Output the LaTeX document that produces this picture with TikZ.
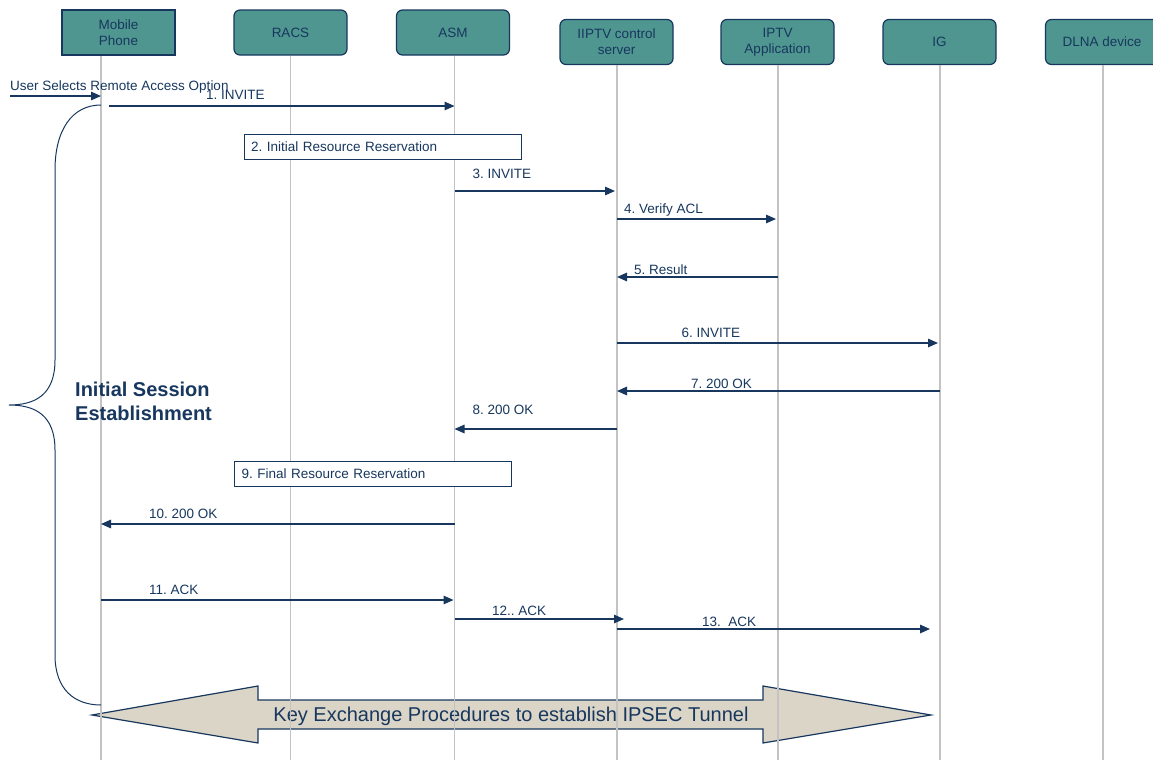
\documentclass[tikz,border=0pt]{standalone}
\usepackage{fontspec}
\setmainfont{Liberation Sans}
\usetikzlibrary{arrows.meta,positioning,calc}
\definecolor{navy}{RGB}{23,55,94}
\definecolor{tealbox}{RGB}{80,150,144}
\definecolor{lifegray}{RGB}{195,195,195}
\definecolor{tunnelfill}{RGB}{219,213,199}
\tikzset{
    actor/.style={draw=navy, line width=1.2pt, rounded corners=6pt,
                  fill=tealbox, minimum width=113pt, minimum height=45pt,
                  align=center, text=navy,
                  font=\fontsize{13.5}{16}\selectfont},
    resbox/.style={draw=navy, line width=1pt, fill=white, anchor=north west,
                   minimum height=25pt, inner xsep=7pt, text width=263pt,
                   align=left, text=navy,
                   font=\fontsize{13.5}{16}\selectfont},
    lbl/.style={anchor=base west, inner sep=0pt, text=navy,
                font=\fontsize{13.5}{16}\selectfont},
}

\begin{document}
\frenchspacing
\begin{tikzpicture}[
    x=1pt, y=-1pt,
    msg/.style={draw=navy, line width=1.5pt,
                -{Triangle[length=10pt,width=8.5pt]}},
    life/.style={draw=lifegray, line width=1.3pt}
]
    \useasboundingbox (0,0) rectangle (1153,766);
    % participants
    \node[actor, rounded corners=0pt] (mob) at (118.5,32.5) {Mobile\\Phone};
    \node[actor] (racs) at (290.5,32.5) {RACS};
    \node[actor] (asm) at (453,32.5) {ASM};
    \node[actor] (ics) at (616.5,42) {IIPTV control\\server};
    \node[actor] (app) at (777.5,42) {IPTV\\Application};
    \node[actor] (ig) at (939.5,42) {IG};
    \node[actor] (dlna) at (1102,42) {DLNA device};

    % key exchange arrow
    \draw[draw=navy, line width=1.2pt, fill=tunnelfill]
        (92,715) -- (258,686) -- (258,700) -- (763,700) -- (763,686)
        -- (931,715) -- (763,743) -- (763,729) -- (258,729) -- (258,743)
        -- cycle;
    \node[text=navy, font=\fontsize{20}{24}\selectfont] (ipsec) at (511,716)
        {Key Exchange Procedures to establish IPSEC Tunnel};

    % lifelines
    \foreach \n/\x in {mob/101, racs/290.5, asm/454.5, ics/617,
                       app/778, ig/940, dlna/1103}
        \coordinate (L\n) at (\x,760);
    \foreach \n in {mob, racs, asm, ics, app, ig, dlna}
        \draw[life] (\n.south -| L\n) -- (L\n);

    % brace
    \draw[navy, line width=1pt]
        (101,105) .. controls (72,105) and (55,130) .. (55,170)
        -- (55,360) .. controls (55,395) and (35,405) .. (9,405)
        .. controls (35,405) and (55,415) .. (55,450)
        -- (55,655) .. controls (55,690) and (75,705) .. (101,705);
    \node[anchor=north west, inner sep=0pt, align=left, text=navy,
          font=\bfseries\fontsize{20}{24}\selectfont] (ise) at (75,382)
        {Initial Session\\Establishment};

    % messages
    \coordinate (user) at (10,96);
    \node[lbl] (m0) at (10,90) {User Selects Remote Access Option};
    \draw[msg] (user) -- (Lmob |- user);

    \node[lbl] (m1) at (206,99) {1. INVITE};
    \draw[msg, shorten <=8pt] (Lmob |- 0,106) -- (Lasm |- 0,106);

    \node[resbox] (res2) at (243.5,134) {2. Initial Resource Reservation};

    \node[lbl] (m3) at (472.5,178) {3. INVITE};
    \draw[msg, shorten >=2pt] (Lasm |- 0,191) -- (Lics |- 0,191);

    \node[lbl] (m4) at (624,213) {4. Verify ACL};
    \draw[msg, shorten >=2pt] (Lics |- 0,219) -- (Lapp |- 0,219);

    \node[lbl] (m5) at (634,274) {5. Result};
    \draw[msg] (Lapp |- 0,277) -- (Lics |- 0,277);

    \node[lbl] (m6) at (681.5,337) {6. INVITE};
    \draw[msg, shorten >=2pt] (Lics |- 0,343) -- (Lig |- 0,343);

    \node[lbl] (m7) at (691,388) {7. 200 OK};
    \draw[msg] (Lig |- 0,391) -- (Lics |- 0,391);

    \node[lbl] (m8) at (472.5,414) {8. 200 OK};
    \draw[msg] (Lics |- 0,429) -- (Lasm |- 0,429);

    \node[resbox] (res9) at (234,461) {9. Final Resource Reservation};

    \node[lbl] (m10) at (149,518) {10. 200 OK};
    \draw[msg] (Lasm |- 0,524) -- (Lmob |- 0,524);

    \node[lbl] (m11) at (149,594) {11. ACK};
    \draw[msg, shorten >=1pt] (Lmob |- 0,600) -- (Lasm |- 0,600);

    \node[lbl] (m12) at (492,615) {12.. ACK};
    \draw[msg, shorten >=-7pt] (Lasm |- 0,619) -- (Lics |- 0,619);

    \node[lbl] (m13) at (702,626) {13.\ \ ACK};
    \draw[msg, shorten >=10pt] (Lics |- 0,629) -- (Lig |- 0,629);
\end{tikzpicture}
\end{document}
